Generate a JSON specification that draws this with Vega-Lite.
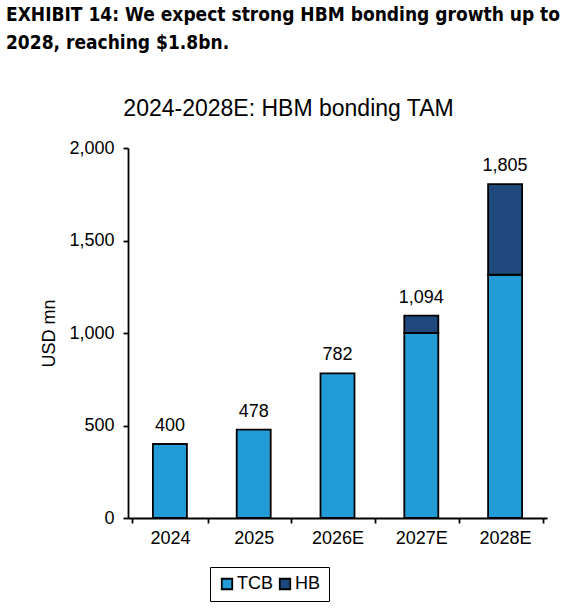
{
  "$schema": "https://vega.github.io/schema/vega-lite/v6.json",
  "width": 564,
  "height": 612,
  "autosize": {"type": "fit", "contains": "padding"},
  "padding": {"left": 5, "right": 17, "top": 6, "bottom": 65},
  "background": "white",
  "title": {
    "text": ["EXHIBIT 14: We expect strong HBM bonding growth up to", "2028, reaching $1.8bn."],
    "anchor": "start",
    "frame": "bounds",
    "font": "DejaVu Sans Condensed, Liberation Sans",
    "fontSize": 19,
    "fontWeight": "bold",
    "color": "black",
    "lineHeight": 28,
    "dx": -35,
    "offset": 44
  },
  "data": {
    "values": [
      {"year": "2024", "series": "TCB", "value": 400},
      {"year": "2025", "series": "TCB", "value": 478},
      {"year": "2026E", "series": "TCB", "value": 782},
      {"year": "2027E", "series": "TCB", "value": 1000},
      {"year": "2027E", "series": "HB", "value": 94},
      {"year": "2028E", "series": "TCB", "value": 1315},
      {"year": "2028E", "series": "HB", "value": 490}
    ]
  },
  "config": {
    "view": {"stroke": null},
    "font": "Liberation Sans",
    "axis": {
      "labelFont": "Liberation Sans",
      "labelFontSize": 18,
      "labelColor": "black",
      "titleFont": "Liberation Sans",
      "titleFontSize": 18,
      "titleFontWeight": "normal",
      "titleColor": "black",
      "domainColor": "black",
      "domainWidth": 1.8,
      "tickColor": "black",
      "tickWidth": 1.8,
      "tickSize": 5,
      "grid": false
    }
  },
  "layer": [
    {
      "mark": {"type": "bar", "size": 34, "stroke": "black", "strokeWidth": 1.8},
      "encoding": {
        "x": {
          "field": "year",
          "type": "ordinal",
          "sort": null,
          "axis": {"title": null, "labelAngle": 0, "tickBand": "extent", "labelPadding": 6, "orient": "bottom"}
        },
        "y": {
          "field": "value",
          "type": "quantitative",
          "aggregate": "sum",
          "stack": "zero",
          "scale": {"domain": [0, 2000]},
          "axis": {"title": "USD mn", "values": [0, 500, 1000, 1500, 2000], "format": ",d", "labelPadding": 9, "titlePadding": 10}
        },
        "color": {
          "field": "series",
          "type": "nominal",
          "scale": {"domain": ["TCB", "HB"], "range": ["#229bd7", "#1f497d"]},
          "legend": {
            "orient": "none",
            "legendX": 82,
            "legendY": 419,
            "direction": "horizontal",
            "title": null,
            "strokeColor": "black",
            "padding": 8,
            "symbolType": "square",
            "symbolSize": 110,
            "symbolStrokeColor": "black",
            "symbolStrokeWidth": 1.8,
            "symbolOpacity": 1,
            "labelFontSize": 18,
            "labelColor": "black",
            "labelFont": "Liberation Sans",
            "columnPadding": 3,
            "labelOffset": 1
          }
        },
        "order": {"field": "series", "sort": "descending"}
      }
    },
    {
      "mark": {"type": "text", "baseline": "bottom", "dy": -9, "fontSize": 18, "color": "black", "font": "Liberation Sans"},
      "encoding": {
        "x": {
          "field": "year",
          "type": "ordinal",
          "sort": null,
          "axis": {
            "orient": "top",
            "title": "2024-2028E: HBM bonding TAM",
            "titleFontSize": 23,
            "titlePadding": 28,
            "titleX": 160,
            "labels": false,
            "ticks": false,
            "domain": false
          }
        },
        "y": {"field": "value", "type": "quantitative", "aggregate": "sum"},
        "text": {"field": "value", "type": "quantitative", "aggregate": "sum", "format": ","}
      }
    }
  ],
  "resolve": {"axis": {"x": "independent"}}
}
